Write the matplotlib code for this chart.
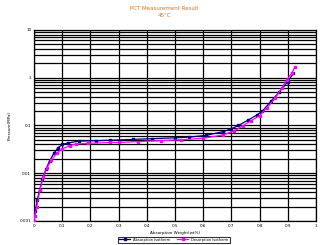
#!/usr/bin/env python3
"""PCT measurement result at 45 °C: absorption / desorption isotherms."""

import numpy as np
import matplotlib
matplotlib.use("Agg")
import matplotlib.pyplot as plt
from matplotlib.ticker import LogLocator, FixedLocator, NullFormatter

# ───── data ─────────────────────────────────────────────────────────────
ABS_X = [0.0, 0.005, 0.012, 0.02, 0.03, 0.042, 0.055, 0.07, 0.085, 0.1,
         0.12, 0.16, 0.22, 0.27, 0.35, 0.42, 0.5, 0.55, 0.61, 0.67,
         0.7, 0.725, 0.76, 0.79, 0.81, 0.84, 0.87, 0.9, 0.92]
ABS_Y = [0.001, 0.0016, 0.0028, 0.0045, 0.0075, 0.012, 0.018, 0.026, 0.034, 0.04,
         0.043, 0.047, 0.048, 0.049, 0.051, 0.053, 0.055, 0.057, 0.062, 0.074,
         0.085, 0.10, 0.13, 0.165, 0.2, 0.32, 0.5, 0.83, 1.24]

DES_X = [0.0, 0.003, 0.01, 0.021, 0.033, 0.045, 0.062, 0.08, 0.098, 0.128,
         0.15, 0.19, 0.27, 0.3, 0.37, 0.45, 0.52, 0.6, 0.67, 0.71,
         0.74, 0.77, 0.80, 0.825, 0.855, 0.878, 0.896, 0.914, 0.926]
DES_Y = [0.001, 0.0013, 0.002, 0.0045, 0.0085, 0.0126, 0.019, 0.026, 0.032, 0.038,
         0.041, 0.042, 0.044, 0.044, 0.046, 0.048, 0.050, 0.054, 0.063, 0.077,
         0.098, 0.126, 0.16, 0.23, 0.37, 0.6, 0.9, 1.24, 1.7]

X_TICKS = [0, 0.1, 0.2, 0.3, 0.4, 0.5, 0.6, 0.7, 0.8, 0.9, 1]
X_LABELS = ["0", "0.1", "0.2", "0.3", "0.4", "0.5", "0.6", "0.7", "0.8", "0.9", "1"]
Y_TICKS = [0.001, 0.01, 0.1, 1, 10]
Y_LABELS = ["0.001", "0.01", "0.1", "1", "10"]

# ───── figure ───────────────────────────────────────────────────────────
fig = plt.figure(figsize=(3.28, 2.45), dpi=100)
ax = fig.add_axes([0.1037, 0.098, 0.8597, 0.780])

ax.set_yscale("log")
ax.set_xlim(0, 1)
ax.set_ylim(0.001, 10)

ax.xaxis.set_major_locator(FixedLocator(X_TICKS))
ax.set_xticklabels(X_LABELS)
ax.yaxis.set_major_locator(FixedLocator(Y_TICKS))
ax.set_yticklabels(Y_LABELS)
ax.yaxis.set_minor_locator(LogLocator(base=10, subs=np.arange(2, 10), numticks=20))
ax.yaxis.set_minor_formatter(NullFormatter())

ax.grid(True, which="major", color="black", linewidth=0.9)
ax.grid(True, which="minor", axis="y", color="black", linewidth=0.9)
ax.tick_params(which="both", length=0, labelsize=3, pad=2)
for sp in ax.spines.values():
    sp.set_linewidth(0.9)

ax.plot(ABS_X, ABS_Y, color="#000080", linewidth=0.9, marker="s",
        markersize=2, label="Absorption Isotherm", zorder=3)
ax.plot(DES_X, DES_Y, color="#FF00FF", linewidth=0.9, marker="s",
        markersize=2, label="Desorption Isotherm", zorder=4)

ax.set_xlabel("Absorption Weight(wt%)", fontsize=3, labelpad=2)
ax.set_ylabel("Pressure(MPa)", fontsize=3, labelpad=6)

fig.text(0.5, 0.965, "PCT Measurement Result", ha="center", va="center",
         fontsize=4, color="#E07020")
fig.text(0.5, 0.935, "45\u00b0C", ha="center", va="center",
         fontsize=4, color="#E07020")

leg = fig.legend(loc="center", bbox_to_anchor=(0.53, 0.022), ncol=2,
                 fontsize=2.6, frameon=True, fancybox=False,
                 handlelength=3, borderpad=0.3, columnspacing=2)
leg.get_frame().set_edgecolor("black")
leg.get_frame().set_linewidth(0.8)

fig.savefig("out.png", dpi=100)
